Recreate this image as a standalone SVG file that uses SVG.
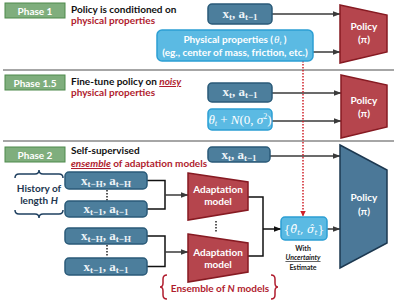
<svg xmlns="http://www.w3.org/2000/svg" width="397" height="302" viewBox="0 0 397 302">
<defs>
<marker id="ah" markerUnits="userSpaceOnUse" markerWidth="8" markerHeight="6" refX="7.5" refY="3" orient="auto"><path d="M0,0 L8,3 L0,6 z" fill="#3a3a3a"/></marker>
<marker id="ahk" markerUnits="userSpaceOnUse" markerWidth="8" markerHeight="6" refX="7.5" refY="3" orient="auto"><path d="M0,0 L8,3 L0,6 z" fill="#111"/></marker>
<marker id="ahr" markerUnits="userSpaceOnUse" markerWidth="6" markerHeight="6" refX="3" refY="5.5" orient="0"><path d="M0,0 L6,0 L3,6 z" fill="#d0202a"/></marker>
<style>
.sep{stroke:#a6a6a6;stroke-width:2}
.ph{fill:#7fae7d;stroke:#4e8a4c;stroke-width:1}
.phT{font-family:Lato,"Open Sans",sans-serif;font-weight:bold;font-size:10px;fill:#fff;text-anchor:middle}
.hd{font-family:Lato,"Open Sans",sans-serif;font-weight:bold;font-size:10px;fill:#111}
.red{fill:#b01c2e}
.dk{fill:#4c7e9c;stroke:#2a5a78;stroke-width:1.5}
.lt{fill:#5bbae3;stroke:#2c9fd4;stroke-width:1.5}
.pr{fill:#b5454d;stroke:#861a22;stroke-width:1.5}
.pb{fill:#4b7898;stroke:#1c3850;stroke-width:1.5}
.m{font-family:"Liberation Serif","DejaVu Serif",serif;font-weight:bold;font-size:13px;fill:#eef4f8;text-anchor:middle}
.mi{font-family:"Liberation Serif","DejaVu Serif",serif;font-style:italic;font-size:13px;fill:#fff;text-anchor:middle}
.wt{font-family:Lato,"Open Sans",sans-serif;font-weight:bold;font-size:10px;fill:#fff;text-anchor:middle}
.ar{stroke:#3a3a3a;stroke-width:1.5;fill:none}
.ak{stroke:#111;stroke-width:1.5;fill:none}
.dot{stroke:#d0202a;stroke-width:1.5;stroke-dasharray:1.5 1.5;fill:none}
.dotk{stroke:#222;stroke-width:1.5;stroke-dasharray:1.5 1.5;fill:none}
.br{stroke:#1f4060;stroke-width:1.5;fill:none}
.brr{stroke:#b01c2e;stroke-width:1.5;fill:none}
.sm{font-family:Lato,"Open Sans",sans-serif;font-weight:bold;font-size:7px;fill:#222;text-anchor:middle}
</style>
</defs>

<g id="separators">
<line class="sep" x1="3" y1="70" x2="394" y2="70"/>
<line class="sep" x1="3" y1="141" x2="394" y2="141"/>
</g>

<g id="phase1-label"><rect class="ph" x="5" y="3" width="60" height="15"/><text class="phT" x="35" y="14.5">Phase 1</text></g>
<g id="phase1-title"><text class="hd" x="71" y="13">Policy is conditioned on</text><text class="hd red" x="71" y="24">physical properties</text></g>

<g id="phase15-label"><rect class="ph" x="5" y="75" width="60" height="15"/><text class="phT" x="35" y="86.5">Phase 1.5</text></g>
<g id="phase15-title"><text class="hd" x="71" y="85">Fine-tune policy on <tspan class="red" font-style="italic" text-decoration="underline">noisy</tspan></text><text class="hd red" x="71" y="96">physical properties</text></g>

<g id="phase2-label"><rect class="ph" x="5" y="147" width="60" height="15"/><text class="phT" x="35" y="158.5">Phase 2</text></g>
<g id="phase2-title"><text class="hd" x="71" y="154">Self-supervised</text><text class="hd red" x="71" y="167"><tspan font-style="italic" text-decoration="underline">ensemble</tspan> of adaptation models</text></g>

<g id="connectors">
<line class="ar" x1="272" y1="14" x2="340" y2="14" marker-end="url(#ah)"/>
<line class="ar" x1="313" y1="52" x2="340" y2="52" marker-end="url(#ah)"/>
<line class="ar" x1="272" y1="93" x2="341" y2="93" marker-end="url(#ah)"/>
<line class="ar" x1="272" y1="121" x2="341" y2="121" marker-end="url(#ah)"/>
<line class="ar" x1="270" y1="156" x2="340" y2="156" marker-end="url(#ah)"/>
<line class="ar" x1="327" y1="229" x2="340" y2="229" marker-end="url(#ah)"/>
<path class="ak" d="M147,180.5 H165 V209 H147"/>
<line class="ar" x1="165" y1="195" x2="188" y2="195" marker-end="url(#ah)"/>
<path class="ak" d="M147,236 H165 V266.5 H147"/>
<line class="ar" x1="165" y1="252" x2="188" y2="252" marker-end="url(#ah)"/>
<path class="ak" d="M248,197 H263 V256 H248"/>
<line class="ak" x1="263" y1="229" x2="281" y2="229" marker-end="url(#ahk)"/>
<line class="dot" x1="303" y1="61" x2="303" y2="216" marker-end="url(#ahr)"/>
<line class="dotk" x1="107" y1="190" x2="107" y2="201"/>
<line class="dotk" x1="107" y1="245" x2="107" y2="257"/>
<line class="dotk" x1="216" y1="221" x2="216" y2="233"/>
</g>

<g id="p1-state"><rect class="dk" x="208" y="4" width="64" height="20" rx="4"/><text class="m" x="240" y="17.5">x<tspan font-size="9" dy="2">t</tspan><tspan dy="-2">, a</tspan><tspan font-size="9" dy="2">t−1</tspan></text></g>
<g id="p1-phys"><rect class="lt" x="157" y="30" width="156" height="31" rx="5"/><text class="wt" x="235" y="42.5">Physical properties (<tspan dx="1" font-family="Liberation Serif,serif" font-style="italic" font-weight="normal" font-size="11">θ</tspan><tspan font-family="Liberation Serif,serif" font-style="italic" font-weight="normal" font-size="7" dy="2">t</tspan><tspan dy="-2"> )</tspan></text><text class="wt" x="235" y="56" font-weight="normal">(eg., center of mass, friction, etc.)</text></g>
<g id="p1-policy"><polygon class="pr" points="340,5 387,15 387,52 340,63"/><text class="wt" x="364" y="30">Policy</text><text class="wt" x="364" y="43">(π)</text></g>

<g id="p15-state"><rect class="dk" x="208" y="83" width="64" height="19" rx="4"/><text class="m" x="240" y="96">x<tspan font-size="9" dy="2">t</tspan><tspan dy="-2">, a</tspan><tspan font-size="9" dy="2">t−1</tspan></text></g>
<g id="p15-noisy"><rect class="lt" x="208" y="109" width="64" height="21" rx="4"/><text class="mi" x="240" y="124">θ<tspan font-size="8" dy="2">t</tspan><tspan dy="-2" font-style="normal"> + </tspan><tspan>N</tspan><tspan font-style="normal">(0, </tspan><tspan>σ</tspan><tspan font-size="8" dy="-5" font-style="normal">2</tspan><tspan dy="5" font-style="normal">)</tspan></text></g>
<g id="p15-policy"><polygon class="pr" points="341,75 387,85 387,127 341,138"/><text class="wt" x="364" y="104">Policy</text><text class="wt" x="364" y="117">(π)</text></g>

<g id="p2-state"><rect class="dk" x="208" y="147" width="62" height="15" rx="4"/><text class="m" x="239" y="158.5">x<tspan font-size="9" dy="2">t</tspan><tspan dy="-2">, a</tspan><tspan font-size="9" dy="2">t−1</tspan></text></g>

<g id="history-label">
<path class="br" d="M15,178 Q15,174 19,174 H35 Q39,174 39,170 Q39,174 43,174 H59 Q63,174 63,178"/>
<text class="hd" x="39" y="192" text-anchor="middle" style="fill:#22364f">History of</text>
<text class="hd" x="39" y="204" text-anchor="middle" style="fill:#22364f">length <tspan font-style="italic">H</tspan></text>
<path class="br" d="M15,210 Q15,214 19,214 H35 Q39,214 39,218 Q39,214 43,214 H59 Q63,214 63,210"/>
</g>

<g id="hist-a1"><rect class="dk" x="65" y="172" width="82" height="17" rx="4"/><text class="m" x="106" y="184.5">x<tspan font-size="9" dy="2">t−H</tspan><tspan dy="-2">, a</tspan><tspan font-size="9" dy="2">t−H</tspan></text></g>
<g id="hist-a2"><rect class="dk" x="65" y="201" width="82" height="16" rx="4"/><text class="m" x="106" y="213">x<tspan font-size="9" dy="2">t−1</tspan><tspan dy="-2">, a</tspan><tspan font-size="9" dy="2">t−1</tspan></text></g>
<g id="hist-b1"><rect class="dk" x="65" y="228" width="82" height="16" rx="4"/><text class="m" x="106" y="240">x<tspan font-size="9" dy="2">t−H</tspan><tspan dy="-2">, a</tspan><tspan font-size="9" dy="2">t−H</tspan></text></g>
<g id="hist-b2"><rect class="dk" x="65" y="258" width="82" height="17" rx="4"/><text class="m" x="106" y="270.5">x<tspan font-size="9" dy="2">t−1</tspan><tspan dy="-2">, a</tspan><tspan font-size="9" dy="2">t−1</tspan></text></g>

<g id="adapt-1"><polygon class="pr" points="188,173 248,182 248,210 188,220"/><text class="wt" x="218" y="193">Adaptation</text><text class="wt" x="218" y="205">model</text></g>
<g id="adapt-2"><polygon class="pr" points="188,234 248,243 248,272 188,282"/><text class="wt" x="218" y="256">Adaptation</text><text class="wt" x="218" y="268">model</text></g>

<g id="estimate"><rect class="lt" x="281" y="217" width="46" height="23" rx="4"/><text x="304" y="233" text-anchor="middle" font-family="'DejaVu Serif',serif" font-size="11" fill="#fff">{<tspan font-style="italic">θ̂</tspan><tspan font-size="7" font-style="italic" dy="2">t</tspan><tspan dy="-2">, </tspan><tspan font-style="italic">σ̂</tspan><tspan font-size="7" font-style="italic" dy="2">t</tspan><tspan dy="-2">}</tspan></text>
<text class="sm" x="303" y="251">With</text><text class="sm" x="303" y="260" font-style="italic" text-decoration="underline">Uncertainty</text><text class="sm" x="303" y="270">Estimate</text></g>

<g id="p2-policy"><polygon class="pb" points="340,145 387,170 387,243 340,268"/><text class="wt" x="364" y="201">Policy</text><text class="wt" x="364" y="215">(π)</text></g>

<g id="ensemble-label">
<path class="brr" d="M167,275 Q163,275 163,279 V283 Q163,287 160,287 Q163,287 163,291 V295 Q163,299 167,299"/>
<text class="hd red" x="220" y="292" text-anchor="middle">Ensemble of <tspan font-style="italic">N</tspan> models</text>
<path class="brr" d="M271,275 Q275,275 275,279 V283 Q275,287 278,287 Q275,287 275,291 V295 Q275,299 271,299"/>
</g>
</svg>
